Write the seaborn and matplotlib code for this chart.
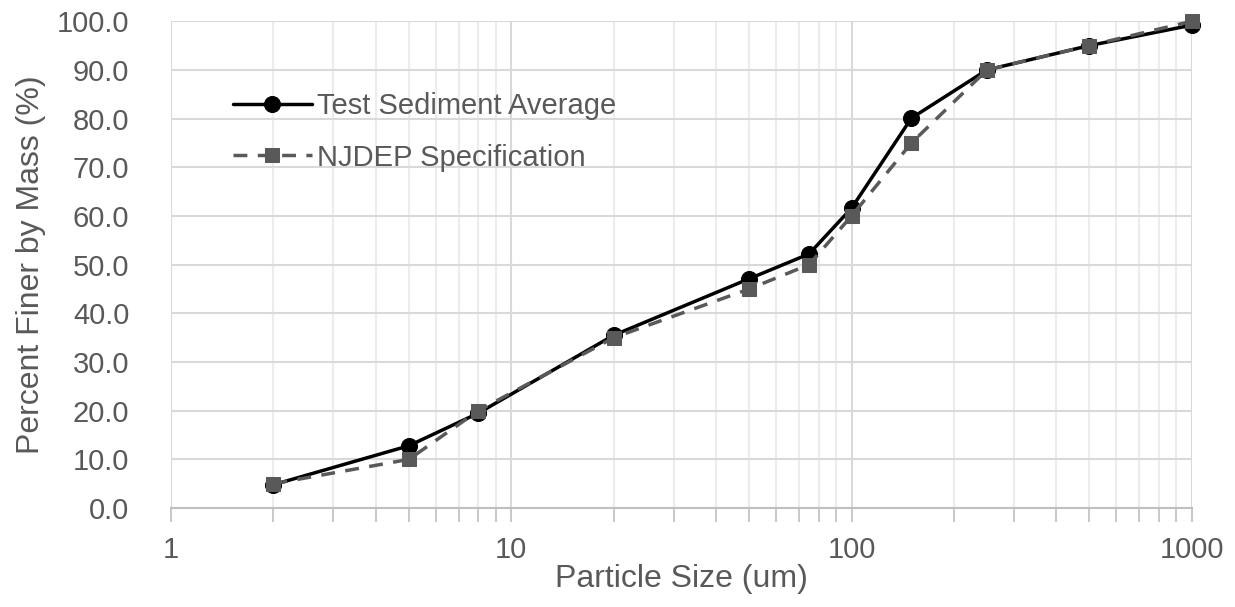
import matplotlib
matplotlib.use("Agg")
import matplotlib.pyplot as plt
import seaborn as sns
import pandas as pd
import numpy as np
from matplotlib.ticker import LogLocator, FixedLocator, FuncFormatter, NullFormatter

particle_size = [2, 5, 8, 20, 50, 75, 100, 150, 250, 500, 1000]
test_sediment = [4.8, 12.8, 19.5, 35.5, 47.1, 52.2, 61.6, 80.1, 90.0, 95.0, 99.2]
njdep_spec = [5, 10, 20, 35, 45, 50, 60, 75, 90, 95, 100]
series_names = ["Test Sediment Average", "NJDEP Specification"]
y_ticks = list(range(0, 101, 10))
x_ticks = [1, 10, 100, 1000]

sns.set_theme(style="white")
plt.rcParams['font.family'] = ['Liberation Sans', 'DejaVu Sans']

df = pd.DataFrame({
    "size": particle_size * 2,
    "pct": test_sediment + njdep_spec,
    "series": [series_names[0]] * len(particle_size) + [series_names[1]] * len(particle_size),
})

fig = plt.figure(figsize=(12.35, 6.07), dpi=100)
ax = fig.add_axes([0.1385, 0.163, 0.8265, 0.802])

sns.lineplot(data=df[df.series == series_names[0]], x="size", y="pct", ax=ax,
             color="black", linewidth=2.5, marker="o", markersize=11.5,
             markeredgecolor="black", label=series_names[0], zorder=3, clip_on=False)
sns.lineplot(data=df[df.series == series_names[1]], x="size", y="pct", ax=ax,
             color="#595959", linewidth=2.5, linestyle=(0, (4, 3)), marker="s", markersize=10.5,
             markeredgecolor="#595959", label=series_names[1], zorder=4, clip_on=False)

ax.set_xscale("log")
ax.set_xlim(1, 1000)
ax.set_ylim(0, 100)
ax.xaxis.set_major_locator(FixedLocator(x_ticks))
ax.xaxis.set_major_formatter(FuncFormatter(lambda v, p: f"{int(v)}"))
ax.xaxis.set_minor_locator(LogLocator(base=10, subs=np.arange(2, 10)))
ax.xaxis.set_minor_formatter(NullFormatter())
ax.yaxis.set_major_locator(FixedLocator(y_ticks))
ax.yaxis.set_major_formatter(FuncFormatter(lambda v, p: f"{v:.1f}"))

ax.grid(True, which="major", axis="both", color="#d9d9d9", linewidth=1.5)
ax.grid(True, which="minor", axis="x", color="#ececec", linewidth=1.5)
ax.set_axisbelow(True)

for s in ["top", "right", "left"]:
    ax.spines[s].set_visible(False)
ax.spines["bottom"].set_color("#bfbfbf")
ax.spines["bottom"].set_linewidth(1.5)

ax.tick_params(axis="x", which="both", direction="out", bottom=True, color="#bfbfbf",
               width=1.2, labelsize=21, labelcolor="#595959", pad=10)
ax.tick_params(axis="x", which="major", length=10)
ax.tick_params(axis="x", which="minor", length=10)
ax.tick_params(axis="y", which="both", left=False, labelsize=21, labelcolor="#595959", pad=24)

ax.set_xlabel("Particle Size (um)", fontsize=23, color="#595959", labelpad=0)
ax.set_ylabel("Percent Finer by Mass (%)", fontsize=23, color="#595959", labelpad=8)

leg = ax.legend(loc="upper left", bbox_to_anchor=(0.035, 0.908), frameon=False,
                fontsize=21, labelcolor="#595959", handlelength=2.7, handletextpad=0.17,
                labelspacing=0.8)

fig.savefig("out.png", dpi=100)
